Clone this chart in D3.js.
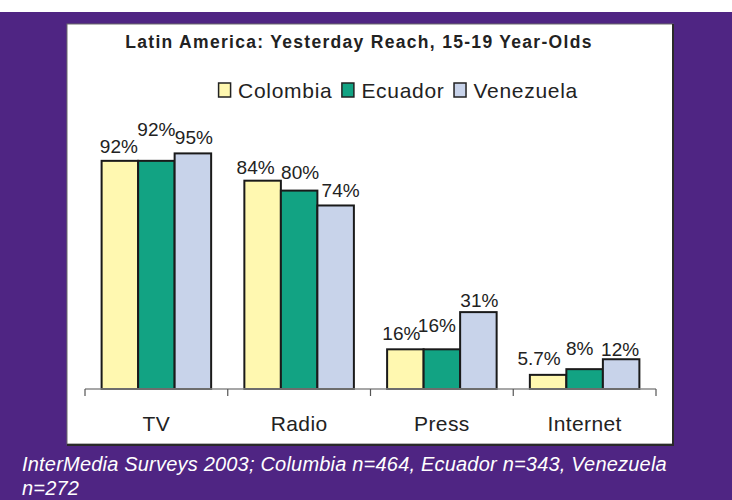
<!DOCTYPE html>
<html>
<head>
<meta charset="utf-8">
<script src="https://cdn.jsdelivr.net/npm/d3@7"></script>
<style>
  html, body { margin: 0; padding: 0; background: #ffffff; }
  svg { display: block; font-family: Arial, "Liberation Sans", Helvetica, sans-serif; }
</style>
</head>
<body>
<svg id="chart" width="732" height="500"></svg>
<script>
// ---- Data ----
const categories = ["TV", "Radio", "Press", "Internet"];
const seriesNames = ["Colombia", "Ecuador", "Venezuela"];
const colombia  = [92, 84, 16, 5.7];
const ecuador   = [92, 80, 16, 8];
const venezuela = [95, 74, 31, 12];
const valueLabels = {
  Colombia:  ["92%", "84%", "16%", "5.7%"],
  Ecuador:   ["92%", "80%", "16%", "8%"],
  Venezuela: ["95%", "74%", "31%", "12%"]
};
const titleText = "Latin America: Yesterday Reach, 15-19 Year-Olds";
const captionLines = [
  "InterMedia Surveys 2003; Columbia n=464, Ecuador n=343, Venezuela",
  "n=272"
];

const seriesValues = { Colombia: colombia, Ecuador: ecuador, Venezuela: venezuela };
const colors = { Colombia: "#FFF8B0", Ecuador: "#12A383", Venezuela: "#C8D3EA" };

// label placement tweaks (dx, gap above bar top) mimicking the original layout
const labelTweak = {
  Colombia:  [[-1, 8], [-7, 7], [-4, 9], [-9, 10]],
  Ecuador:   [[0, 25], [1, 12], [-5, 17], [-5, 14]],
  Venezuela: [[1, 9], [5, 8], [1, 5], [-1, 3]]
};

const svg = d3.select("#chart");

// background
svg.append("rect").attr("x", 0).attr("y", 12).attr("width", 732).attr("height", 488).attr("fill", "#4F2583");

// panel
svg.append("rect").attr("x", 67).attr("y", 24).attr("width", 606).attr("height", 420)
  .attr("fill", "#ffffff").attr("stroke", "#6b6b6b").attr("stroke-width", 1);
svg.append("path").attr("d", "M673,24 V445 H67").attr("fill", "none")
  .attr("stroke", "#2a2a2a").attr("stroke-width", 2);

// scales
const x = d3.scaleBand().domain(categories).range([85, 656]).paddingInner(0).paddingOuter(0);
const xs = d3.scaleBand().domain(seriesNames).range([0, x.bandwidth()]).paddingInner(0).paddingOuter(0.455);
const y = d3.scaleLinear().domain([0, 100]).range([389, 141]);

// title
svg.append("text").attr("x", 359).attr("y", 47.5).attr("text-anchor", "middle")
  .attr("font-size", 17.5).attr("font-weight", "bold").attr("fill", "#222")
  .attr("letter-spacing", 1.3)
  .text(titleText);

// legend
const legend = svg.append("g");
let lx = 0;
seriesNames.forEach(s => {
  const g = legend.append("g").attr("transform", `translate(${lx},0)`);
  g.append("rect").attr("x", 0.5).attr("y", 83).attr("width", 12).attr("height", 14)
    .attr("fill", colors[s]).attr("stroke", "#222").attr("stroke-width", 1.5);
  const t = g.append("text").attr("x", 20).attr("y", 97.5).attr("font-size", 21)
    .attr("letter-spacing", 0.7)
    .attr("fill", "#222").text(s);
  const w = t.node().getComputedTextLength();
  lx += 20 + w + 9;
});
const legW = lx - 9;
legend.attr("transform", `translate(${398 - legW / 2},0)`);

// bars
const groups = svg.append("g").selectAll("g").data(categories).join("g")
  .attr("transform", d => `translate(${x(d)},0)`);

groups.each(function(cat, ci) {
  const g = d3.select(this);
  seriesNames.forEach(s => {
    const v = seriesValues[s][ci];
    g.append("rect")
      .attr("x", xs(s)).attr("y", y(v))
      .attr("width", xs.bandwidth()).attr("height", y(0) - y(v))
      .attr("fill", colors[s]).attr("stroke", "#1a1a1a").attr("stroke-width", 2);
  });
});

// axis line and ticks at category boundaries
const axis = svg.append("g");
axis.append("line").attr("x1", x.range()[0]).attr("x2", x.range()[1])
  .attr("y1", y(0)).attr("y2", y(0)).attr("stroke", "#8a8a8a").attr("stroke-width", 1.5);
const tickXs = categories.map(c => x(c)).concat([x.range()[1]]);
axis.selectAll("line.tick").data(tickXs).join("line").attr("class", "tick")
  .attr("x1", d => d).attr("x2", d => d).attr("y1", y(0)).attr("y2", y(0) + 7)
  .attr("stroke", "#555").attr("stroke-width", 1.2);
axis.selectAll("text.cat").data(categories).join("text").attr("class", "cat")
  .attr("x", d => x(d) + x.bandwidth() / 2).attr("y", 431)
  .attr("text-anchor", "middle").attr("font-size", 21).attr("letter-spacing", 0.4)
  .attr("fill", "#222")
  .text(d => d);

// value labels
groups.each(function(cat, ci) {
  const g = d3.select(this);
  seriesNames.forEach(s => {
    const v = seriesValues[s][ci];
    const [dx, gap] = labelTweak[s][ci];
    g.append("text")
      .attr("x", xs(s) + xs.bandwidth() / 2 + dx)
      .attr("y", y(v) - gap)
      .attr("text-anchor", "middle").attr("font-size", 19).attr("fill", "#222")
      .text(valueLabels[s][ci]);
  });
});

// caption
svg.append("g").selectAll("text").data(captionLines).join("text")
  .attr("x", 22).attr("y", (d, i) => 471 + i * 24)
  .attr("font-size", 20).attr("font-style", "italic").attr("fill", "#ffffff")
  .attr("letter-spacing", 0.2)
  .text(d => d);
</script>
</body>
</html>
